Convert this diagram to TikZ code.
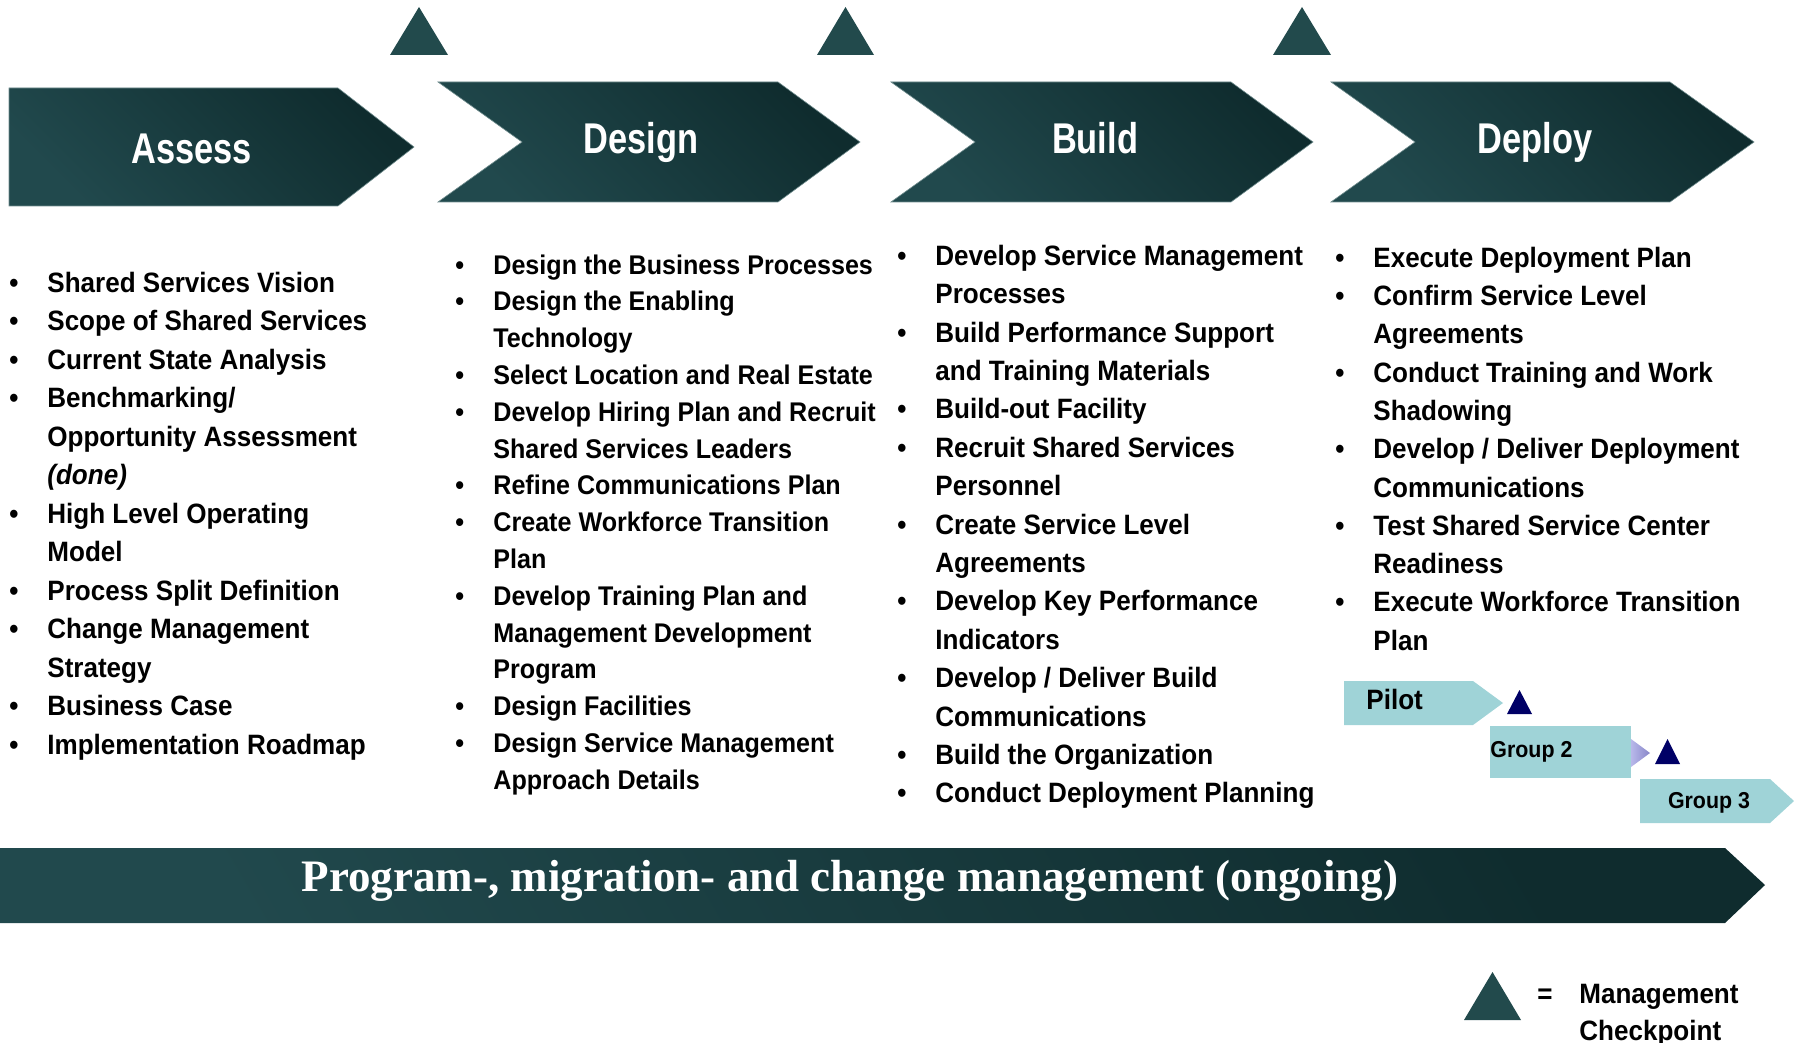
\documentclass[tikz,border=0pt]{standalone}
\usepackage{fontspec}
\setmainfont{Liberation Sans}
\newfontfamily\bodyfont[FakeStretch=0.93]{Liberation Sans}
\newfontfamily\titlefont[FakeStretch=0.8]{Liberation Sans}
\newfontfamily\serifb{Liberation Serif}
\definecolor{tealD}{HTML}{0F2C2E}
\definecolor{tealL}{HTML}{21494D}
\definecolor{ckptc}{HTML}{224A4C}
\definecolor{pilotc}{HTML}{9FD3D7}
\definecolor{navyc}{HTML}{000066}
\definecolor{lavA}{HTML}{B8B8EA}
\definecolor{lavB}{HTML}{8886C8}
\definecolor{edgec}{HTML}{6F8C8D}
\newcommand\bul{\makebox[19pt][l]{•}}
\newcommand\cont{\hspace*{19pt}}
\tikzset{
  chev/.style={top color=tealD, bottom color=tealL, shading angle=-45, draw=edgec, line width=0.3pt},
  ckpt/.style={fill=ckptc},
  ttl/.style={anchor=base, inner sep=0, text=white, font=\titlefont\bfseries\fontsize{21.5pt}{25pt}\selectfont},
  col/.style={anchor=north west, inner sep=0, align=left},
  grp/.style={inner sep=0, font=\bodyfont\bfseries\fontsize{11.5pt}{14pt}\selectfont},
}
\begin{document}
\begin{tikzpicture}[x=0.5pt,y=-0.5pt]
\useasboundingbox (0,0) rectangle (1794,1043);
% management checkpoints (top)
\fill[ckpt] (390,55) -- (419,7) -- (448,55) -- cycle;
\fill[ckpt] (817,55) -- (845.5,7) -- (874,55) -- cycle;
\fill[ckpt] (1273,55) -- (1302,7) -- (1331,55) -- cycle;
% phase chevrons
\path[chev] (9,88) -- (338,88) -- (414,147) -- (338,206) -- (9,206) -- cycle;
\path[chev] (438,82) -- (778,82) -- (860,142) -- (778,202) -- (438,202) -- (522,142) -- cycle;
\path[chev] (891,82) -- (1231,82) -- (1313,142) -- (1231,202) -- (891,202) -- (975,142) -- cycle;
\path[chev] (1331,82) -- (1670,82) -- (1754,142) -- (1670,202) -- (1331,202) -- (1415,142) -- cycle;
\node[ttl] (assess) at (191.6,164) {Assess};
\node[ttl] (design) at (641,154) {Design};
\node[ttl] (build) at (1095,154) {Build};
\node[ttl] (deploy) at (1535,154) {Deploy};
% columns
\node[col, font=\bodyfont\bfseries\fontsize{14pt}{19.25pt}\selectfont] (c1) at (9,265) {%
\strut\bul Shared Services Vision\\
\bul Scope of Shared Services\\
\bul Current State Analysis\\
\bul Benchmarking/\\
\cont Opportunity Assessment\\
\cont \textit{(done)}\\
\bul High Level Operating\\
\cont Model\\
\bul Process Split Definition\\
\bul Change Management\\
\cont Strategy\\
\bul Business Case\\
\bul Implementation Roadmap};
\node[col, font=\bodyfont\bfseries\fontsize{13.5pt}{18.4pt}\selectfont] (c2) at (455,248) {%
\strut\bul Design the Business Processes\\
\bul Design the Enabling\\
\cont Technology\\
\bul Select Location and Real Estate\\
\bul Develop Hiring Plan and Recruit\\
\cont Shared Services Leaders\\
\bul Refine Communications Plan\\
\bul Create Workforce Transition\\
\cont Plan\\
\bul Develop Training Plan and\\
\cont Management Development\\
\cont Program\\
\bul Design Facilities\\
\bul Design Service Management\\
\cont Approach Details};
\node[col, font=\bodyfont\bfseries\fontsize{14pt}{19.2pt}\selectfont] (c3) at (897,238) {%
\strut\bul Develop Service Management\\
\cont Processes\\
\bul Build Performance Support\\
\cont and Training Materials\\
\bul Build-out Facility\\
\bul Recruit Shared Services\\
\cont Personnel\\
\bul Create Service Level\\
\cont Agreements\\
\bul Develop Key Performance\\
\cont Indicators\\
\bul Develop / Deliver Build\\
\cont Communications\\
\bul Build the Organization\\
\bul Conduct Deployment Planning};
\node[col, font=\bodyfont\bfseries\fontsize{14pt}{19.15pt}\selectfont] (c4) at (1335,240) {%
\strut\bul Execute Deployment Plan\\
\bul Confirm Service Level\\
\cont Agreements\\
\bul Conduct Training and Work\\
\cont Shadowing\\
\bul Develop / Deliver Deployment\\
\cont Communications\\
\bul Test Shared Service Center\\
\cont Readiness\\
\bul Execute Workforce Transition\\
\cont Plan};
% pilot / groups
\fill[pilotc] (1344,681) -- (1473,681) -- (1503,703) -- (1473,725) -- (1344,725) -- cycle;
\node[anchor=base west, inner sep=0, font=\bodyfont\bfseries\fontsize{14pt}{17pt}\selectfont] (pilot) at (1366,709) {Pilot};
\fill[navyc] (1507,714) -- (1519.5,690) -- (1532,714) -- cycle;
\fill[pilotc] (1490,726) rectangle (1631,778);
\shade[left color=lavA, right color=lavB] (1631,739) -- (1650,753) -- (1631,767) -- cycle;
\node[grp, anchor=base west] (g2) at (1490,757) {Group 2};
\fill[navyc] (1655,764) -- (1667.5,739) -- (1680,764) -- cycle;
\fill[pilotc] (1640,779) -- (1770,779) -- (1794,801) -- (1770,823) -- (1640,823) -- cycle;
\node[grp, anchor=base] (g3) at (1709,808) {Group 3};
% banner
\path[top color=tealD, bottom color=tealL, shading angle=-60] (0,848) -- (1725,848) -- (1765,885) -- (1725,923) -- (0,923) -- cycle;
\node[anchor=base, inner sep=0, text=white, font=\serifb\bfseries\fontsize{22.5pt}{26pt}\selectfont] (prog) at (850,891) {Program-, migration- and change management (ongoing)};
% legend
\fill[ckpt] (1464,1020) -- (1492.5,972) -- (1521,1020) -- cycle;
\node[anchor=base west, inner sep=0, font=\bodyfont\bfseries\fontsize{14pt}{17pt}\selectfont] (eq) at (1537,1003) {=};
\node[col, font=\bodyfont\bfseries\fontsize{14pt}{18.5pt}\selectfont] (legend) at (1579,977) {\strut Management\\Checkpoint};
\end{tikzpicture}
\end{document}
